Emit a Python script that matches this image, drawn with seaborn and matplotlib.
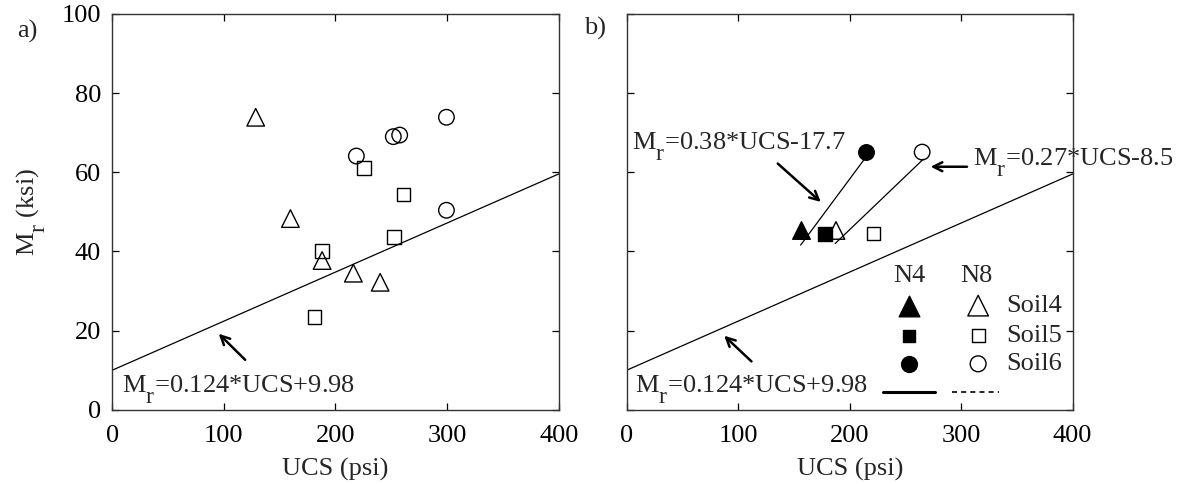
import matplotlib
matplotlib.use("Agg")
import matplotlib.pyplot as plt
import matplotlib._mathtext as _mt
import seaborn as sns
import numpy as np
import pandas as pd

# ---------------- data ----------------
# Panel a: all specimens (open markers)
soil4_ucs = [128.5, 159.6, 188.0, 216.0, 240.0]
soil4_mr = [73.9, 48.3, 37.7, 34.5, 32.2]
soil5_ucs = [181.0, 187.7, 225.5, 252.5, 261.0]
soil5_mr = [23.4, 40.1, 61.1, 43.6, 54.4]
soil6_ucs = [218.7, 251.8, 257.5, 299.4, 299.4]
soil6_mr = [64.1, 69.0, 69.4, 73.9, 50.4]

# Panel b: averages for N4 (filled) and N8 (open)
n4_ucs = [155.9, 177.7, 214.6]
n4_mr = [45.3, 44.5, 65.1]
n8_ucs = [187.7, 221.3, 265.0]
n8_mr = [45.3, 44.5, 65.1]
soils = ["Soil4", "Soil5", "Soil6"]

# Regression lines (endpoints)
base_x = [0, 400]
base_y = [9.98, 59.58]
n4_fit_x = [156.0, 215.0]
n4_fit_y = [41.6, 64.0]
n8_fit_x = [187.0, 266.0]
n8_fit_y = [42.0, 63.3]

eq_base = r"M$_\mathrm{r}$=0.124*UCS+9.98"
eq_n4 = r"M$_\mathrm{r}$=0.38*UCS-17.7"
eq_n8 = r"M$_\mathrm{r}$=0.27*UCS-8.5"

x_ticks = [0, 100, 200, 300, 400]
y_ticks = [0, 20, 40, 60, 80, 100]

# ---------------- style ----------------
sns.set_style("ticks")
plt.rcParams["font.family"] = ["Liberation Serif", "DejaVu Serif"]
plt.rcParams["mathtext.fontset"] = "custom"
plt.rcParams["mathtext.rm"] = "Liberation Serif"
plt.rcParams["mathtext.it"] = "Liberation Serif:italic"
plt.rcParams["mathtext.bf"] = "Liberation Serif:bold"
# larger, lower subscripts (as in the original MATLAB-style rendering)
_mt.SHRINK_FACTOR = 0.9
_mt.FontConstantsBase.sub1 = 0.95

TICK_FS = 19
LAB_FS = 19
ANN_FS = 19
K = "black"

fig = plt.figure(figsize=(11.78, 4.84), dpi=100)
ax_a = fig.add_axes([0.0953, 0.1535, 0.379, 0.8176])
ax_b = fig.add_axes([0.532, 0.1535, 0.3786, 0.8176])

marker_sizes = {"^": 160, "s": 95, "o": 125}


def open_scatter(ax, x, y, m, s=None):
    sns.scatterplot(x=x, y=y, marker=m, s=s or marker_sizes[m], ax=ax,
                    facecolor="none", edgecolor=K, linewidth=1.0, zorder=3)


def filled_scatter(ax, x, y, m, s=None):
    sns.scatterplot(x=x, y=y, marker=m, s=s or marker_sizes[m], ax=ax,
                    color=K, edgecolor=K, linewidth=1.0, zorder=3)


def arrow(ax, tail, head):
    ax.annotate("", xy=head, xytext=tail,
                arrowprops=dict(arrowstyle="->", lw=1.8, color=K,
                                mutation_scale=16, shrinkA=0, shrinkB=0))


for ax in (ax_a, ax_b):
    sns.lineplot(x=base_x, y=base_y, ax=ax, color=K, lw=0.9)
    ax.set_xlim(0, 400)
    ax.set_ylim(0, 100)
    ax.set_xticks(x_ticks)
    ax.set_yticks(y_ticks)
    ax.tick_params(direction="in", length=5, width=0.9, top=True, right=True,
                   labelsize=TICK_FS, colors=K)
    ax.tick_params(axis="x", pad=11)
    ax.tick_params(axis="y", pad=8)
    for sp in ax.spines.values():
        sp.set_visible(True)
        sp.set_linewidth(1.0)
        sp.set_color("#333333")
    ax.set_xlabel("UCS (psi)", fontsize=LAB_FS, labelpad=8)

# ---------------- panel a ----------------
open_scatter(ax_a, soil4_ucs, soil4_mr, "^")
open_scatter(ax_a, soil5_ucs, soil5_mr, "s")
open_scatter(ax_a, soil6_ucs, soil6_mr, "o")
ax_a.set_ylabel(r"M$_\mathrm{r}$ (ksi)", fontsize=LAB_FS, labelpad=10)
arrow(ax_a, (119.1, 12.6), (95.4, 19.2))
ax_a.text(8.4, 4.3, eq_base, fontsize=ANN_FS, ha="left", va="baseline")

# ---------------- panel b ----------------
sns.lineplot(x=n4_fit_x, y=n4_fit_y, ax=ax_b, color=K, lw=0.9)
sns.lineplot(x=n8_fit_x, y=n8_fit_y, ax=ax_b, color=K, lw=0.9)
for xv, yv, m in zip(n4_ucs, n4_mr, ["^", "s", "o"]):
    filled_scatter(ax_b, [xv], [yv], m)
for xv, yv, m in zip(n8_ucs, n8_mr, ["^", "s", "o"]):
    open_scatter(ax_b, [xv], [yv], m)
ax_b.set_yticklabels([])
ax_b.set_ylabel("")

ax_b.text(4.4, 65.8, eq_n4, fontsize=ANN_FS, ha="left", va="baseline")
arrow(ax_b, (135.5, 62.2), (174.1, 52.5))
ax_b.text(310.3, 61.8, eq_n8, fontsize=ANN_FS, ha="left", va="baseline",
          clip_on=False)
arrow(ax_b, (305.2, 61.4), (272.6, 61.4))
ax_b.text(7.7, 4.3, eq_base, fontsize=ANN_FS, ha="left", va="baseline")
arrow(ax_b, (111.9, 12.2), (87.4, 18.7))

# custom legend (placed in axes fraction)
tr = ax_b.transAxes
ax_b.text(0.633, 0.322, "N4", fontsize=ANN_FS, ha="center", va="baseline", transform=tr)
ax_b.text(0.784, 0.322, "N8", fontsize=ANN_FS, ha="center", va="baseline", transform=tr)
leg_y = [0.263, 0.187, 0.116]
leg_ms = {"^": 220, "s": 85, "o": 130}
for yy, m, lab in zip(leg_y, ["^", "s", "o"], soils):
    ax_b.scatter([0.633], [yy], marker=m, s=leg_ms[m], color=K, transform=tr,
                 clip_on=False, zorder=3)
    ax_b.scatter([0.788], [yy], marker=m, s=leg_ms[m], facecolor="none",
                 edgecolor=K, linewidth=1.0, transform=tr, clip_on=False, zorder=3)
    ax_b.text(0.851, yy, lab, fontsize=ANN_FS, ha="left", va="center", transform=tr)
ax_b.plot([0.574, 0.691], [0.044, 0.044], color=K, lw=2.2, transform=tr)
ax_b.plot([0.730, 0.835], [0.044, 0.044], color=K, lw=1.2, ls=(0, (3, 2.5)),
          transform=tr)

# panel tags
fig.text(16.7 / 1178, 1 - 31 / 484, "a)", fontsize=TICK_FS, ha="left", va="center")
fig.text(584 / 1178, 1 - 28 / 484, "b)", fontsize=TICK_FS, ha="left", va="center")

fig.savefig("out.png", dpi=100)
